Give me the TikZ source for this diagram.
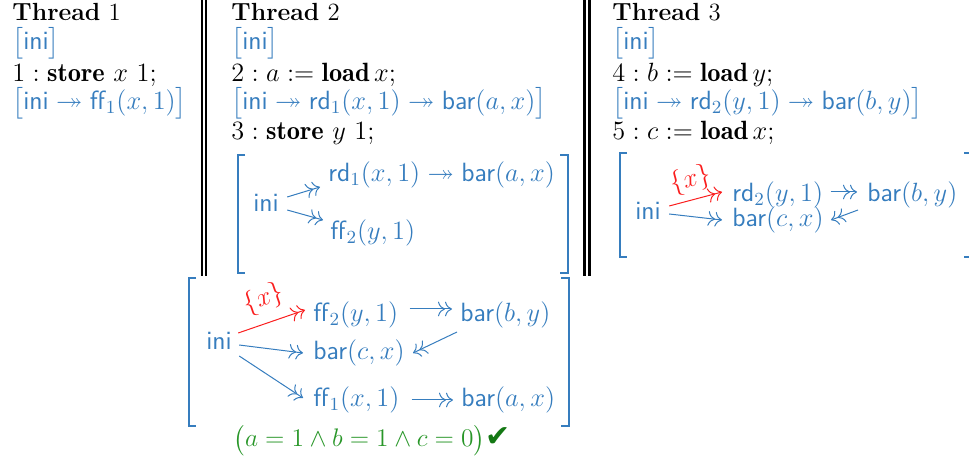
\RequirePackage{fix-cm}
\documentclass[tikz,border=0pt]{standalone}
\usepackage{amsmath,amssymb}
\usepackage{fontspec}
\newfontfamily\dejavu{DejaVu Sans}
\usetikzlibrary{arrows.meta}
\definecolor{eblue}{RGB}{54,125,190}
\definecolor{egreen}{RGB}{40,150,40}
\definecolor{dgreen}{RGB}{20,120,20}
\definecolor{ered}{RGB}{250,30,30}
\newcommand{\fsz}{\fontsize{13.2}{15}\selectfont}
\newcommand{\hsz}{\fontsize{12.4}{15}\selectfont}
\newcommand{\gsz}{\fontsize{12.7}{15}\selectfont}
\newcommand{\sfx}[1]{\textsf{#1}}
\tikzset{
  txt/.style={anchor=base west, inner sep=0pt, font=\fsz},
  head/.style={txt, font=\hsz},
  bl/.style={txt, text=eblue},
  conn/.style={draw=eblue, line width=0.5pt, -{To[scale=1.3]To[scale=1.3]}},
  rconn/.style={draw=ered, line width=0.5pt, -{To[scale=1.3]To[scale=1.3]}},
  brk/.style={draw=eblue, line width=1pt},
  sepline/.style={draw=black, line width=1pt},
  septhick/.style={draw=black, line width=1.35pt},
  lbl/.style={midway, above, sloped, inner sep=3pt, font=\fsz, text=ered}
}
\begin{document}
\begin{tikzpicture}[x=0.5pt,y=-0.5pt]
\useasboundingbox (0,0) rectangle (969,459);
% separators
\draw[sepline] (201.7,0) -- (201.7,276);
\draw[sepline] (205.7,0) -- (205.7,276);
\draw[septhick] (584.5,0) -- (584.5,276);
\draw[septhick] (589.2,0) -- (589.2,276);
% Thread 1
\node[head] (t1h) at (12,21) {\textbf{Thread} $1$};
\node[bl] (t1a) at (12,50) {$\big[$\sfx{ini}$\big]$};
\node[txt] (t1b) at (12,82) {$1 : \mathbf{store}\ x\ 1;$};
\node[bl] (t1c) at (12,110) {$\big[\text{\sfx{ini}}\twoheadrightarrow\text{\sfx{ff}}_1(x,1)\big]$};
% Thread 2
\node[head] (t2h) at (231,21) {\textbf{Thread} $2$};
\node[bl] (t2a) at (231,50) {$\big[$\sfx{ini}$\big]$};
\node[txt] (t2b) at (231,82) {$2 : a := \mathbf{load}\,x;$};
\node[bl] (t2c) at (231,110) {$\big[\text{\sfx{ini}}\twoheadrightarrow\text{\sfx{rd}}_1(x,1)\twoheadrightarrow\text{\sfx{bar}}(a,x)\big]$};
\node[txt] (t2d) at (231,140) {$3 : \mathbf{store}\ y\ 1;$};
\draw[brk] (245,155) -| (237.5,273) -- (245,273);
\draw[brk] (560,155) -| (567.5,273) -- (560,273);
\node[bl] (ini2) at (253,212) {\sfx{ini}};
\node[bl] (rd2) at (328,182) {$\text{\sfx{rd}}_1(x,1)\twoheadrightarrow\text{\sfx{bar}}(a,x)$};
\node[bl] (ff2) at (330,240) {$\text{\sfx{ff}}_2(y,1)$};
\draw[conn] ([shift={(8,-15)}]ini2.base east) -- ([shift={(-8,5)}]rd2.base west);
\draw[conn] ([shift={(8,-2)}]ini2.base east) -- ([shift={(-7,-20)}]ff2.base west);
% Thread 3
\node[head] (t3h) at (612,21) {\textbf{Thread} $3$};
\node[bl] (t3a) at (612,50) {$\big[$\sfx{ini}$\big]$};
\node[txt] (t3b) at (612,82) {$4 : b := \mathbf{load}\,y;$};
\node[bl] (t3c) at (612,110) {$\big[\text{\sfx{ini}}\twoheadrightarrow\text{\sfx{rd}}_2(y,1)\twoheadrightarrow\text{\sfx{bar}}(b,y)\big]$};
\node[txt] (t3d) at (612,140) {$5 : c := \mathbf{load}\,x;$};
\draw[brk] (627,153) -| (619.5,257) -- (627,257);
\draw[brk] (964,153) -| (971.5,257) -- (964,257);
\node[bl] (ini3) at (635,220) {\sfx{ini}};
\node[bl] (rd3) at (732,202) {$\text{\sfx{rd}}_2(y,1)$};
\node[bl] (bby3) at (867,202) {$\text{\sfx{bar}}(b,y)$};
\node[bl] (bcx3) at (732,227) {$\text{\sfx{bar}}(c,x)$};
\draw[rconn] ([shift={(8,-14)}]ini3.base east) -- node[lbl] {$\{x\}$} ([shift={(-10,-10)}]rd3.base west);
\draw[conn] ([shift={(8,-6)}]ini3.base east) -- ([shift={(-10,-7)}]bcx3.base west);
\draw[conn] ([shift={(7,-10)}]rd3.base east) -- ([shift={(-10,-10)}]bby3.base west);
\draw[conn] ([shift={(-9,8)}]bby3.base west) -- ([shift={(7,-7)}]bcx3.base east);
% bottom box
\draw[brk] (196,278) -| (188.5,426) -- (196,426);
\draw[brk] (561,278) -| (569,426) -- (561,426);
\node[bl] (ini4) at (206,350) {\sfx{ini}};
\node[bl] (ff4) at (313,322) {$\text{\sfx{ff}}_2(y,1)$};
\node[bl] (bby4) at (460,322) {$\text{\sfx{bar}}(b,y)$};
\node[bl] (bcx4) at (313,360) {$\text{\sfx{bar}}(c,x)$};
\node[bl] (ffa4) at (313,407) {$\text{\sfx{ff}}_1(x,1)$};
\node[bl] (bax4) at (461,407) {$\text{\sfx{bar}}(a,x)$};
\draw[rconn] ([shift={(6,-17)}]ini4.base east) -- node[lbl, inner sep=5pt] {$\{x\}$} ([shift={(-8,-12)}]ff4.base west);
\draw[conn] ([shift={(7,-5)}]ini4.base east) -- ([shift={(-10,-7)}]bcx4.base west);
\draw[conn] ([shift={(7,6)}]ini4.base east) -- ([shift={(-10,-9)}]ffa4.base west);
\draw[conn] ([shift={(11,-13)}]ff4.base east) -- ([shift={(-8,-13)}]bby4.base west);
\draw[conn] ([shift={(-3,10)}]bby4.base west) -- ([shift={(8,-7)}]bcx4.base east);
\draw[conn] ([shift={(12,-7)}]ffa4.base east) -- ([shift={(-8,-7)}]bax4.base west);
\node[txt, font=\gsz, text=egreen] (res) at (233,447) {$\big(a = 1 \wedge b = 1 \wedge c = 0\big)$\textcolor{dgreen}{\fontsize{15}{15}\selectfont\dejavu ✔}};
\end{tikzpicture}
\end{document}
